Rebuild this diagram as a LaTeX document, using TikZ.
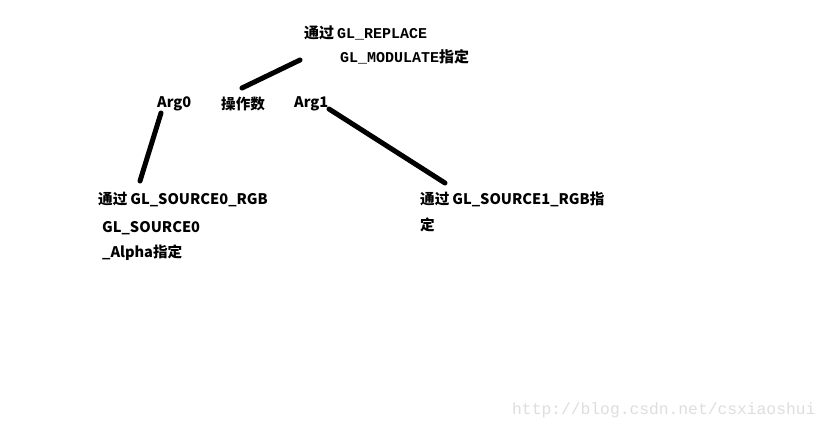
\documentclass[tikz,border=0pt]{standalone}
\usepackage{fontspec}
\newfontfamily\cjk{Noto Sans CJK SC}
\newfontfamily\monob{Liberation Mono}
\newfontfamily\wmfont{Liberation Mono}
\begin{document}
\begin{tikzpicture}[x=1pt,y=-1pt,
  lbl/.style={anchor=west,inner sep=0pt,font=\cjk\bfseries\fontsize{14.6}{18}\selectfont},
  mlbl/.style={anchor=west,inner sep=0pt,font=\monob\bfseries\fontsize{15}{18}\selectfont},
  bar/.style={line width=5pt,line cap=round,black}]
\useasboundingbox (0,0) rectangle (835,431);
\fill[white] (0,0) rectangle (835,431);
% top text
\node[mlbl] (t1) at (304,33) {{\cjk\bfseries 通过}\kern3pt GL\_REPLACE};
\node[mlbl] (t2) at (340,57) {GL\_MODULATE{\cjk\bfseries 指定}};
% middle row
\node[lbl] (a0) at (157,104) {Arg0};
\node[lbl] (op) at (221,104) {操作数};
\node[lbl] (a1) at (294,104) {Arg1};
% bottom left
\node[lbl] (s0a) at (98,200) {通过\kern3pt GL\_SOURCE0\_RGB};
\node[lbl] (s0b) at (102,228) {GL\_SOURCE0};
\node[lbl] (s0c) at (102,253) {\_Alpha指定};
% bottom right
\node[lbl] (s1a) at (420,199) {通过\kern3pt GL\_SOURCE1\_RGB指};
\node[lbl] (s1b) at (420,225) {定};
% watermark
\node[anchor=west,inner sep=0pt,text=black!13,font=\wmfont\fontsize{16.3}{18}\selectfont] (wm) at (512,410) {http://blog.csdn.net/csxiaoshui};
% connectors
\coordinate (p1) at (300,60);
\coordinate (p2) at (242,88);
\coordinate (q1) at (161,113);
\coordinate (q2) at (140,181);
\coordinate (r1) at (329,109);
\coordinate (r2) at (445,183);
\draw[bar] (p1) -- (p2);
\draw[bar] (q1) -- (q2);
\draw[bar] (r1) -- (r2);
\end{tikzpicture}
\end{document}
